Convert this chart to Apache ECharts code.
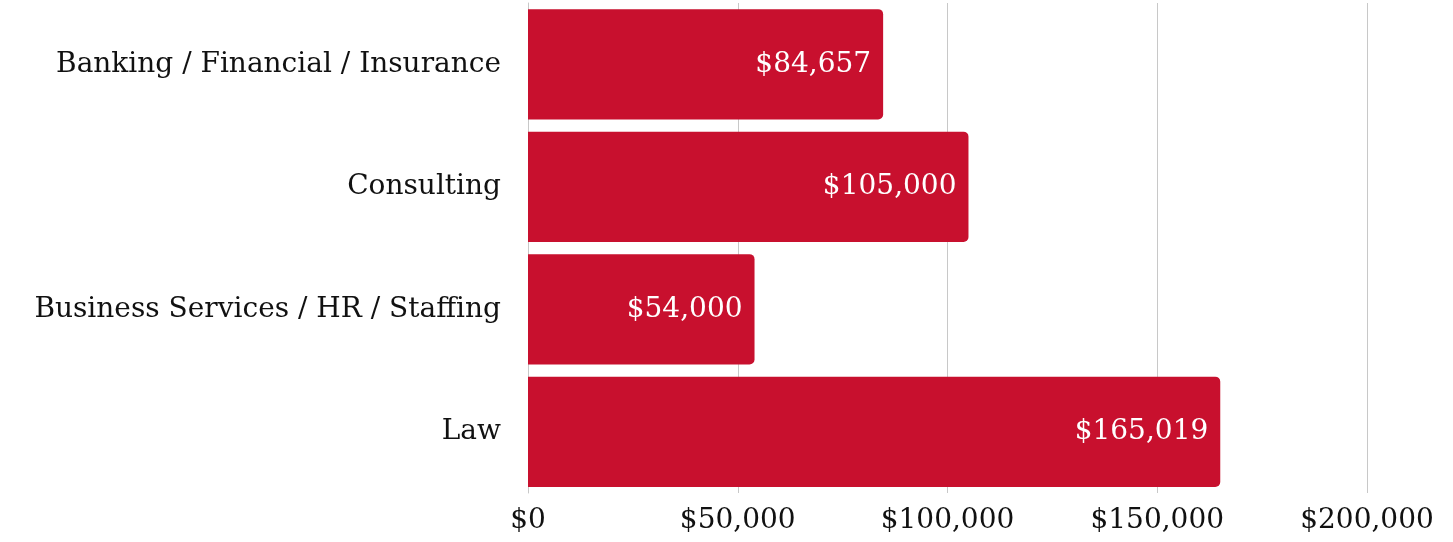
<!DOCTYPE html>
<html>
<head>
<meta charset="utf-8">
<script src="https://cdn.jsdelivr.net/npm/echarts@6/dist/echarts.min.js"></script>
<style>
  html, body { margin: 0; padding: 0; background: #fff; }
  #chart { width: 1453px; height: 542px; }
</style>
</head>
<body>
<div id="chart"></div>
<script>
// industries, top to bottom
var categories = ['Banking / Financial / Insurance', 'Consulting', 'Business Services / HR / Staffing', 'Law'];
var salaries = [84657, 105000, 54000, 165019];
var xTicks = [0, 50000, 100000, 150000, 200000];

var font = 'DejaVu Serif';

function money(v) {
    return '$' + Number(v).toLocaleString('en-US');
}

var myChart = echarts.init(document.getElementById('chart'));
var option = {
    animation: false,
    textStyle: {fontFamily: font},
    grid: {left: 528, right: 86, top: 3, bottom: 49},
    xAxis: {
        type: 'value',
        min: xTicks[0],
        max: xTicks[xTicks.length - 1],
        interval: 50000,
        axisLine: {show: false},
        axisTick: {show: false},
        splitLine: {lineStyle: {color: '#c8c8c8', width: 1}},
        axisLabel: {
            color: '#111',
            fontSize: 28,
            fontFamily: font,
            margin: 14,
            formatter: money
        }
    },
    yAxis: {
        type: 'category',
        data: categories,
        inverse: true,
        axisLine: {show: true, lineStyle: {color: '#c8c8c8'}},
        axisTick: {show: false},
        axisLabel: {
            color: '#111',
            fontSize: 28,
            fontFamily: font,
            margin: 27
        }
    },
    series: [{
        type: 'bar',
        data: salaries,
        barCategoryGap: '10%',
        itemStyle: {color: '#c8102e', borderRadius: [0, 5, 5, 0]},
        label: {
            show: true,
            position: 'insideRight',
            distance: 12,
            color: '#fff',
            fontSize: 28,
            fontFamily: font,
            formatter: function (p) { return money(p.value); }
        }
    }]
};
myChart.setOption(option);
</script>
</body>
</html>
